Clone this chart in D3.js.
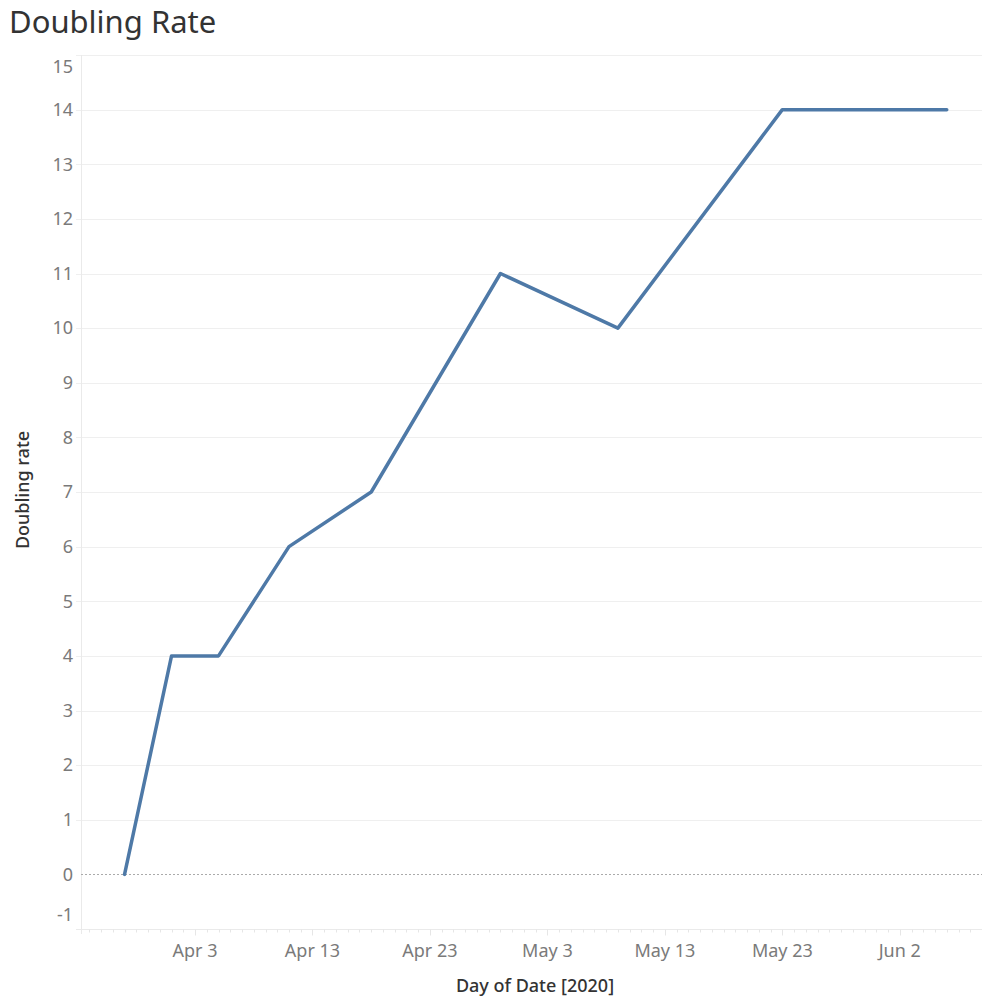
<!DOCTYPE html>
<meta charset="utf-8">
<head>
    <style>
        body { margin: 0; background: #fff; }
    </style>
    <script src="https://d3js.org/d3.v7.min.js"></script>
</head>
<body>
<svg id="chart"></svg>
<script>
    // data
    var dates = ["2020-03-28", "2020-04-01", "2020-04-05", "2020-04-11", "2020-04-18",
                 "2020-04-29", "2020-05-09", "2020-05-23", "2020-06-06"];
    var rates = [0, 4, 4, 6, 7, 11, 10, 14, 14];
    var yTicks = [-1, 0, 1, 2, 3, 4, 5, 6, 7, 8, 9, 10, 11, 12, 13, 14, 15];
    var xTickDates = ["2020-04-03", "2020-04-13", "2020-04-23", "2020-05-03",
                      "2020-05-13", "2020-05-23", "2020-06-02"];

    var width = 982, height = 998;
    var margin = {top: 55, right: 0, bottom: 69, left: 81};
    var font = "Noto Sans, sans-serif";

    var parse = d3.timeParse("%Y-%m-%d");
    var data = dates.map(function(d, i){ return {date: parse(d), value: rates[i]}; });

    var svg = d3.select("#chart")
        .attr("width", width)
        .attr("height", height);

    var x = d3.scaleTime()
        .domain([new Date(2020, 2, 24, 7), new Date(2020, 5, 9, 0)])
        .range([margin.left, width - margin.right]);

    var y = d3.scaleLinear()
        .domain([-1, 15])
        .range([height - margin.bottom, margin.top]);

    // title
    svg.append("text")
        .attr("x", 9)
        .attr("y", 33)
        .style("font-family", font)
        .style("font-size", "31px")
        .style("fill", "#333")
        .text("Doubling Rate");

    // gridlines
    svg.append("g")
        .selectAll("line")
        .data(yTicks.filter(function(d){ return d != 0 && d != -1; }))
        .enter()
        .append("line")
        .attr("x1", 76)
        .attr("x2", width)
        .attr("y1", function(d){ return Math.round(y(d)) + 0.5; })
        .attr("y2", function(d){ return Math.round(y(d)) + 0.5; })
        .style("stroke", "#efefef")
        .style("stroke-width", 1);

    // bottom border
    svg.append("line")
        .attr("x1", 76).attr("x2", width)
        .attr("y1", Math.round(y(-1)) + 0.5).attr("y2", Math.round(y(-1)) + 0.5)
        .style("stroke", "#eaeaea");

    // left axis line
    svg.append("line")
        .attr("x1", margin.left + 0.5).attr("x2", margin.left + 0.5)
        .attr("y1", margin.top).attr("y2", height - margin.bottom + 5)
        .style("stroke", "#eaeaea");

    // zero line
    svg.append("line")
        .attr("x1", margin.left)
        .attr("x2", width)
        .attr("y1", Math.round(y(0)) + 0.5)
        .attr("y2", Math.round(y(0)) + 0.5)
        .style("stroke", "#aaa")
        .style("stroke-dasharray", "2,2")
        .style("stroke-width", 1);

    // y tick labels (Tableau nudges the end labels inward)
    svg.append("g")
        .selectAll("text")
        .data(yTicks)
        .enter()
        .append("text")
        .attr("x", 73)
        .attr("y", function(d){
            var p = y(d);
            if (d == 15) p += 12;
            if (d == -1) p -= 14;
            return p;
        })
        .attr("dy", "0.35em")
        .attr("text-anchor", "end")
        .style("font-family", font)
        .style("font-size", "18px")
        .style("fill", "#7a7a7a")
        .text(function(d){ return d; });

    // x axis: daily minor ticks, labelled every 10 days
    var minorTicks = d3.timeDay.range(new Date(2020, 2, 25), new Date(2020, 5, 10));
    var yb = Math.round(y(-1)) + 0.5;
    svg.append("g")
        .selectAll("line")
        .data(minorTicks)
        .enter()
        .append("line")
        .attr("x1", function(d){ return Math.round(x(d)) + 0.5; })
        .attr("x2", function(d){ return Math.round(x(d)) + 0.5; })
        .attr("y1", yb)
        .attr("y2", function(d){
            var major = xTickDates.indexOf(d3.timeFormat("%Y-%m-%d")(d)) >= 0;
            return yb + (major ? 6 : 3);
        })
        .style("stroke", "#e6e6e6");

    svg.append("g")
        .selectAll("text")
        .data(xTickDates.map(parse))
        .enter()
        .append("text")
        .attr("x", function(d){ return x(d); })
        .attr("y", 957)
        .attr("text-anchor", "middle")
        .style("font-family", font)
        .style("font-size", "18px")
        .style("fill", "#7a7a7a")
        .text(function(d){ return d3.timeFormat("%b ")(d) + d.getDate(); });

    // axis titles
    svg.append("text")
        .attr("x", 535)
        .attr("y", 992)
        .attr("text-anchor", "middle")
        .style("font-family", font)
        .style("font-size", "18px")
        .style("font-weight", 500)
        .style("fill", "#333")
        .text("Day of Date [2020]");

    svg.append("text")
        .attr("transform", "translate(29,490) rotate(-90)")
        .attr("text-anchor", "middle")
        .style("font-family", font)
        .style("font-size", "18px")
        .style("font-weight", 500)
        .style("fill", "#333")
        .text("Doubling rate");

    // the line
    var line = d3.line()
        .x(function(d){ return x(d.date); })
        .y(function(d){ return y(d.value); });

    svg.append("path")
        .datum(data)
        .attr("d", line)
        .style("fill", "none")
        .style("stroke", "#4e79a7")
        .style("stroke-width", 3.5)
        .style("stroke-linejoin", "round")
        .style("stroke-linecap", "round");
</script>
</body>
</html>
